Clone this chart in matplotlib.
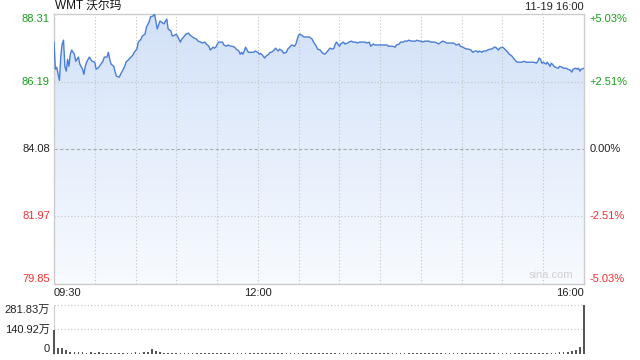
import numpy as np
import matplotlib.pyplot as plt
from matplotlib.colors import LinearSegmentedColormap

plt.rcParams['font.family'] = ['Liberation Sans', 'Noto Sans CJK SC', 'DejaVu Sans']

# minutes after 09:30 and last price
minutes = [
    0, 1, 2, 4, 5, 6, 7, 8, 9, 10,
    11, 12, 13, 15, 16, 18, 19, 21, 22, 23,
    24, 26, 27, 28, 30, 31, 33, 34, 36, 37,
    39, 40, 41, 42, 44, 45, 46, 48, 49, 51,
    52, 53, 55, 56, 58, 59, 61, 62, 64, 65,
    67, 68, 70, 71, 73, 74, 76, 78, 79, 81,
    82, 83, 84, 86, 87, 89, 90, 92, 93, 94,
    96, 97, 99, 100, 102, 103, 105, 106, 108, 109,
    111, 112, 114, 115, 117, 118, 119, 121, 122, 124,
    125, 127, 128, 130, 131, 133, 134, 136, 137, 138,
    139, 140, 141, 143, 144, 146, 147, 148, 150, 151,
    152, 154, 155, 156, 158, 159, 160, 162, 163, 165,
    166, 168, 169, 171, 172, 174, 175, 177, 178, 179,
    180, 181, 183, 184, 185, 187, 188, 190, 191, 193,
    194, 196, 197, 199, 200, 202, 203, 205, 206, 207,
    208, 210, 211, 213, 214, 216, 217, 219, 220, 222,
    223, 225, 226, 228, 229, 230, 232, 233, 235, 236,
    238, 239, 241, 242, 243, 245, 246, 248, 249, 251,
    252, 254, 255, 257, 258, 260, 261, 263, 264, 266,
    267, 269, 270, 271, 273, 274, 276, 277, 279, 280,
    282, 283, 285, 286, 288, 289, 291, 292, 294, 295,
    296, 298, 299, 301, 302, 304, 305, 307, 308, 310,
    311, 312, 313, 315, 316, 318, 319, 321, 322, 324,
    325, 327, 328, 330, 331, 333, 334, 335, 337, 338,
    340, 341, 343, 344, 346, 347, 349, 350, 352, 353,
    355, 356, 357, 358, 359, 360, 362, 363, 365, 366,
    368, 369, 371, 372, 374, 375, 377, 378, 380, 381,
    382, 384, 385, 386, 387, 388, 390,
]
prices = [
    87.43, 86.58, 86.64, 86.23, 86.99, 87.37, 87.49, 86.67, 86.52, 86.89,
    86.67, 87.05, 87.18, 87.05, 86.83, 86.96, 86.74, 86.58, 86.42, 86.67,
    86.80, 86.96, 86.89, 86.83, 86.80, 86.58, 86.64, 86.71, 86.83, 86.96,
    86.96, 87.11, 86.89, 86.74, 86.67, 86.49, 86.36, 86.33, 86.42, 86.58,
    86.67, 86.80, 86.89, 86.93, 87.02, 87.11, 87.21, 87.43, 87.52, 87.62,
    87.68, 87.90, 88.06, 88.22, 88.25, 88.31, 87.84, 88.09, 88.06, 88.00,
    88.09, 88.15, 87.84, 87.78, 87.62, 87.65, 87.68, 87.52, 87.43, 87.52,
    87.62, 87.68, 87.71, 87.65, 87.59, 87.56, 87.52, 87.46, 87.43, 87.40,
    87.43, 87.37, 87.30, 87.18, 87.27, 87.24, 87.27, 87.43, 87.43, 87.43,
    87.34, 87.30, 87.34, 87.30, 87.30, 87.27, 87.21, 87.15, 87.05, 87.11,
    87.05, 87.15, 87.27, 87.11, 87.11, 87.11, 87.11, 87.15, 87.11, 87.05,
    87.08, 86.99, 86.93, 86.99, 87.05, 87.11, 87.11, 87.18, 87.24, 87.15,
    87.21, 87.15, 87.08, 87.11, 87.21, 87.30, 87.34, 87.30, 87.37, 87.52,
    87.65, 87.68, 87.62, 87.59, 87.59, 87.59, 87.59, 87.52, 87.43, 87.30,
    87.21, 87.18, 87.11, 87.05, 87.08, 87.18, 87.24, 87.21, 87.24, 87.37,
    87.43, 87.30, 87.37, 87.43, 87.37, 87.40, 87.43, 87.46, 87.43, 87.43,
    87.40, 87.43, 87.43, 87.43, 87.43, 87.40, 87.43, 87.30, 87.37, 87.34,
    87.34, 87.34, 87.34, 87.34, 87.34, 87.34, 87.30, 87.30, 87.30, 87.27,
    87.34, 87.37, 87.43, 87.43, 87.46, 87.46, 87.49, 87.46, 87.46, 87.46,
    87.49, 87.46, 87.46, 87.43, 87.46, 87.46, 87.46, 87.43, 87.43, 87.43,
    87.40, 87.37, 87.43, 87.46, 87.43, 87.40, 87.40, 87.40, 87.40, 87.37,
    87.34, 87.37, 87.30, 87.27, 87.24, 87.21, 87.21, 87.18, 87.11, 87.15,
    87.15, 87.11, 87.15, 87.11, 87.15, 87.15, 87.18, 87.21, 87.21, 87.27,
    87.27, 87.18, 87.24, 87.27, 87.24, 87.15, 87.11, 87.05, 86.99, 86.93,
    86.83, 86.80, 86.80, 86.80, 86.83, 86.80, 86.80, 86.80, 86.80, 86.80,
    86.77, 86.83, 86.93, 86.89, 86.77, 86.80, 86.74, 86.80, 86.67, 86.77,
    86.67, 86.64, 86.61, 86.67, 86.64, 86.61, 86.61, 86.58, 86.55, 86.49,
    86.58, 86.61, 86.58, 86.61, 86.52, 86.58, 86.61,
]

prev_close = 84.08
price_ticks = [79.85, 81.97, 84.08, 86.19, 88.31]
pct_labels = ['-5.03%', '-2.51%', '0.00%', '+2.51%', '+5.03%']

# volume in 万 shares, one bar every 3 minutes
vol_minutes = list(range(0, 391, 3))
volumes = [
    140, 35, 36, 25, 14, 12, 10, 11, 8, 9,
    7, 9, 7, 8, 6, 8, 7, 6, 8, 7,
    9, 8, 10, 14, 26, 16, 12, 8, 6, 5,
    6, 7, 6, 7, 6, 6, 7, 6, 6, 7,
    6, 6, 5, 6, 6, 5, 6, 6, 5, 6,
    5, 6, 5, 6, 5, 6, 5, 5, 6, 7,
    6, 5, 6, 5, 5, 6, 5, 5, 6, 5,
    5, 6, 5, 5, 5, 6, 5, 5, 6, 5,
    5, 5, 6, 5, 5, 6, 5, 5, 5, 6,
    5, 5, 5, 6, 5, 5, 6, 5, 5, 6,
    5, 5, 6, 5, 6, 5, 5, 6, 5, 6,
    5, 6, 5, 6, 5, 6, 5, 6, 6, 7,
    6, 7, 7, 8, 9, 10, 14, 17, 22, 38,
    281.83,
]
vol_ticks = [0, 140.92, 281.83]
vol_labels = ['0', '140.92万', '281.83万']

time_ticks = [0, 150, 390]
time_labels = ['09:30', '12:00', '16:00']

GREEN = '#1c9e1c'
RED = '#f03030'
DARK = '#222222'
GRID = '#c4c4c4'


def level_color(p):
    if p > prev_close:
        return GREEN
    if p < prev_close:
        return RED
    return DARK


def main():
    fig = plt.figure(figsize=(6.4, 3.6), dpi=100)
    ax = fig.add_axes([54 / 640, 76 / 360, 530 / 640, 270 / 360])
    vax = fig.add_axes([54 / 640, 6 / 360, 530 / 640, 49 / 360])

    lo, hi = price_ticks[0], price_ticks[-1]
    ax.set_xlim(0, 390)
    ax.set_ylim(lo, hi)
    ax.set_xticks([])
    ax.set_yticks([])
    for s in ax.spines.values():
        s.set_color('#cccccc')
        s.set_linewidth(1)

    # gradient area under the price line
    cmap = LinearSegmentedColormap.from_list('fill', ['#f8fbff', '#d2e1f8'])
    grad = np.linspace(0, 1, 256).reshape(-1, 1)
    img = ax.imshow(grad, extent=[0, 390, lo, hi], origin='lower',
                    aspect='auto', cmap=cmap, zorder=0)
    area = ax.fill_between(minutes, prices, lo, facecolor='none', edgecolor='none')
    img.set_clip_path(area.get_paths()[0], transform=ax.transData)

    # grid
    for t in range(30, 390, 30):
        ax.axvline(t, color=GRID, lw=0.8, ls=(0, (1, 2)), zorder=1)
    for p in price_ticks[1:-1]:
        if p == prev_close:
            ax.axhline(p, color='#aaaaaa', lw=0.8, ls=(0, (3, 2)), zorder=1)
        else:
            ax.axhline(p, color=GRID, lw=0.8, ls=(0, (1, 2)), zorder=1)

    ax.plot(minutes, prices, color='#4a7ed6', lw=1.0, zorder=3)

    # price labels left and percent labels right
    yt = ax.get_yaxis_transform()
    for i, (p, lab) in enumerate(zip(price_ticks, pct_labels)):
        va = 'bottom' if i == 0 else ('top' if i == len(price_ticks) - 1 else 'center')
        c = level_color(p)
        ax.text(-0.008, p, f'{p:.2f}', transform=yt, ha='right', va=va,
                fontsize=8, color=c)
        ax.text(1.011, p, lab, transform=yt, ha='left', va=va,
                fontsize=8, color=c)

    xt = ax.get_xaxis_transform()
    for t, lab in zip(time_ticks, time_labels):
        ha = 'left' if t == 0 else ('right' if t == 390 else 'center')
        ax.text(t, -0.015, lab, transform=xt, ha=ha, va='top',
                fontsize=8, color=DARK)

    fig.text(55 / 640, 1 - 7 / 360, 'WMT 沃尔玛', ha='left', va='center',
             fontsize=8.5, color='#111111')
    fig.text(584 / 640, 1 - 7 / 360, '11-19 16:00', ha='right', va='center',
             fontsize=8, color=DARK)
    ax.text(0.98, 0.015, 'sina.com', transform=ax.transAxes, ha='right',
            va='bottom', fontsize=8, color='#d0d0d0')

    # volume panel
    vax.set_xlim(0, 390)
    vax.set_ylim(0, vol_ticks[-1])
    vax.set_xticks([])
    vax.set_yticks([])
    for k in ['top', 'right', 'bottom']:
        vax.spines[k].set_visible(False)
    vax.spines['left'].set_color('#cccccc')
    for v in vol_ticks[1:]:
        vax.axhline(v, color=GRID, lw=0.8, ls=(0, (1, 2)), zorder=1)
    vax.bar(vol_minutes, volumes, width=1.2, color='#555555', zorder=3,
            clip_on=False)
    vyt = vax.get_yaxis_transform()
    for i, (v, lab) in enumerate(zip(vol_ticks, vol_labels)):
        va = 'bottom' if i == 0 else ('top' if i == len(vol_ticks) - 1 else 'center')
        vax.text(-0.008, v, lab, transform=vyt, ha='right', va=va,
                 fontsize=8, color=DARK)

    fig.savefig('out.png', dpi=100)


if __name__ == '__main__':
    main()
